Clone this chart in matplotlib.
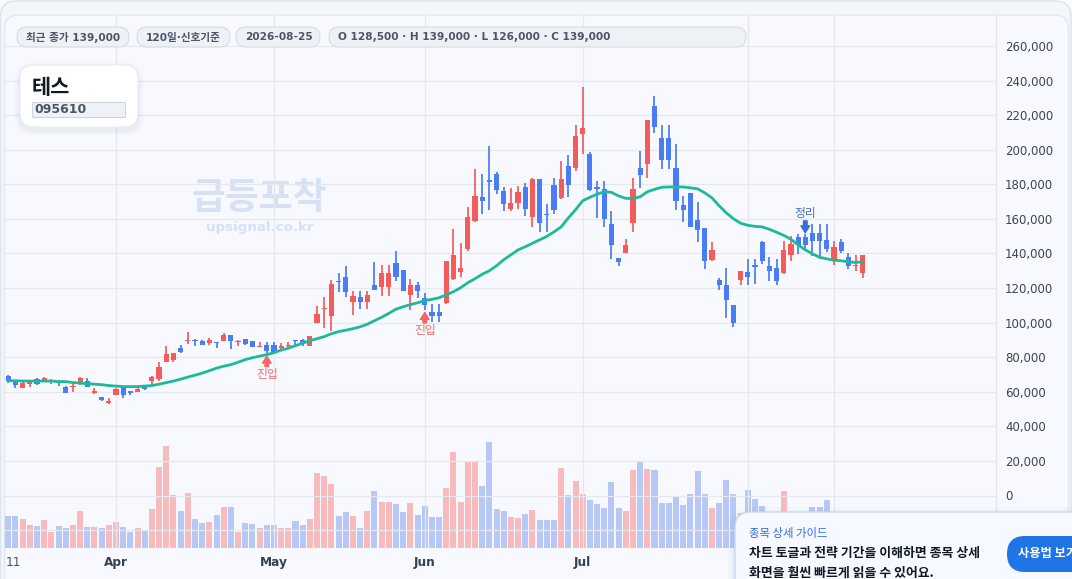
import matplotlib
matplotlib.use('Agg')
import matplotlib.pyplot as plt
from matplotlib.patches import FancyBboxPatch, Rectangle

plt.rcParams['font.family'] = ['DejaVu Sans', 'Noto Sans CJK KR']

W, H = 1072, 579

# ---------------- data ----------------
opens = [69300, 66100, 62000, 64500, 67400, 65900, 66400, 66400, 63000, 62800,
         65700, 66400, 59100, 57200, 53300, 58000, 63000, 60300, 59700, 63900,
         66100, 67200, 77400, 78400, 85500, 89200, 89600, 89600, 88000, 88400,
         89200, 93000, 89000, 90500, 89600, 85700, 87000, 87000, 85300, 86300,
         89900, 89900, 86300, 99600, 107700, 104000, 123800, 126500, 111700, 115000,
         111700, 121700, 120400, 120400, 134600, 130600, 116100, 121900, 114200, 106300,
         106300, 111100, 125200, 129400, 142500, 158900, 172800, 182400, 185900, 176200,
         166000, 169500, 178500, 161200, 183000, 163100, 179700, 172000, 190700, 189300,
         209400, 197400, 178500, 177200, 157000, 137300, 140000, 157400, 189300, 192000,
         225300, 206700, 206700, 189300, 168100, 174900, 159300, 155000, 136400, 124800,
         121900, 110400, 124800, 129400, 133500, 146800, 132900, 131500, 129000, 139100,
         149700, 149700, 151800, 151800, 147700, 136700, 146800, 138100, 132700, 128500]
highs = [69600, 66400, 66800, 66800, 67800, 68800, 67200, 66400, 63600, 65900,
         68800, 68000, 62200, 57200, 56400, 62000, 63000, 60700, 62200, 63900,
         69300, 77000, 86300, 82600, 87100, 94800, 90500, 89900, 91100, 88800,
         94000, 93000, 89900, 90500, 89600, 88800, 88800, 88800, 88200, 88800,
         89900, 90500, 92400, 109800, 114600, 124800, 128700, 132900, 118400, 118400,
         118400, 135200, 133300, 133300, 141600, 130600, 125200, 123300, 117100, 110700,
         110700, 135800, 154100, 145800, 167000, 188700, 185900, 202200, 187400, 178500,
         177800, 179100, 181000, 183900, 183000, 168500, 183500, 193600, 197000, 214400,
         236300, 199000, 182000, 182000, 164700, 137300, 148300, 183500, 199300, 217100,
         231100, 214400, 214400, 203200, 173300, 174900, 169900, 155000, 146800, 125800,
         131400, 110400, 130000, 136700, 136700, 147300, 137700, 136700, 147300, 150200,
         151200, 151200, 157000, 157000, 157000, 147000, 148300, 140000, 139200, 139000]
lows = [64900, 62200, 62000, 62600, 64100, 65500, 64500, 63600, 59100, 59700,
        64100, 62600, 58700, 54900, 52800, 58000, 56400, 58200, 59700, 61100,
        63600, 66400, 77400, 77400, 82200, 87600, 86700, 87100, 87200, 85300,
        89200, 84700, 86300, 87200, 85700, 85700, 82200, 82200, 84400, 85000,
        87200, 86700, 86300, 99600, 96700, 95300, 117500, 114600, 104600, 107900,
        107900, 119000, 115600, 115600, 124200, 118400, 107500, 114000, 107500, 100200,
        100200, 110700, 124600, 126200, 141600, 158300, 163100, 165100, 174300, 164300,
        164300, 165600, 161800, 155600, 152700, 152200, 163100, 171400, 172400, 187800,
        197800, 176200, 160800, 155600, 136700, 132500, 140000, 152200, 177800, 183500,
        209900, 188700, 188700, 165100, 158500, 155600, 146400, 131000, 135400, 118800,
        102500, 97300, 121700, 121900, 122300, 134200, 124200, 121900, 128400, 135400,
        139600, 142700, 138700, 137000, 140600, 133500, 140200, 131000, 130000, 126000]
closes = [66100, 64100, 64900, 65500, 64500, 68200, 66600, 65300, 59100, 63000,
          68200, 63000, 60700, 55500, 54900, 61400, 58200, 59300, 61800, 61400,
          68800, 74500, 81900, 82600, 83200, 89600, 89400, 87200, 89900, 88200,
          93000, 89200, 89600, 87600, 85700, 86500, 83700, 82800, 86300, 86900,
          89400, 88000, 92400, 105000, 108200, 122300, 123400, 117500, 115600, 111700,
          116100, 119000, 128800, 128800, 126200, 118400, 121900, 118400, 110400, 104000,
          104000, 135800, 139200, 131400, 161200, 173300, 170100, 181600, 176600, 168500,
          169500, 175700, 165600, 183000, 157400, 162000, 165300, 183000, 179500, 208000,
          212400, 176800, 177200, 159900, 144800, 134800, 145000, 177200, 185500, 217100,
          213400, 193900, 193900, 170500, 165100, 155600, 153500, 135800, 141900, 121700,
          113200, 99600, 130000, 126500, 131900, 135400, 129600, 123800, 141900, 145400,
          145000, 145000, 147000, 147000, 142500, 143900, 141600, 132500, 133100, 139000]
ma_line = [66400, 66400, 66200, 66200, 66200, 66200, 66200, 65900, 65900, 65300,
           65000, 64700, 64400, 64100, 63600, 63300, 63000, 63000, 63000, 63300,
           63600, 64400, 65300, 66200, 67300, 68500, 69600, 70800, 72200, 73700,
           74800, 75700, 77100, 78600, 79700, 80600, 81500, 82600, 84100, 85200,
           86700, 88100, 89600, 90700, 91900, 93600, 94800, 95600, 96500, 97600,
           99100, 101100, 103100, 105400, 107800, 109200, 110400, 111500, 112700, 113500,
           114400, 116100, 117900, 120200, 123100, 125400, 128000, 130000, 132900, 136400,
           139200, 142100, 143900, 145900, 147900, 149900, 152500, 155400, 160600, 165300,
           170500, 172500, 174300, 175700, 175400, 173300, 171900, 171800, 172800, 175700,
           177100, 178300, 178500, 178500, 178500, 178000, 177400, 175100, 172200, 167600,
           163500, 160100, 157500, 156300, 155700, 155400, 154000, 152300, 150500, 148200,
           145000, 142100, 139800, 137800, 136900, 136100, 135800, 135200, 134800, 135200]
volume_k = [320, 320, 290, 230, 220, 280, 160, 220, 200, 230,
            370, 210, 210, 200, 230, 260, 210, 160, 200, 170,
            390, 810, 1020, 530, 370, 550, 290, 250, 260, 330,
            410, 410, 160, 250, 240, 200, 230, 230, 200, 200,
            270, 230, 290, 750, 720, 640, 320, 360, 320, 200,
            370, 570, 460, 460, 440, 360, 450, 330, 420, 310,
            310, 600, 960, 460, 870, 860, 620, 1060, 390, 370,
            310, 300, 340, 380, 280, 280, 280, 800, 530, 670,
            540, 480, 440, 400, 660, 400, 370, 780, 860, 790,
            780, 450, 450, 520, 430, 540, 770, 540, 400, 450,
            680, 540, 350, 580, 490, 420, 300, 280, 570, 330,
            310, 340, 410, 410, 480, 300, 280, 320, 260, 350]

month_ticks = [15, 37, 58, 80, 103]
month_labels = ['Apr', 'May', 'Jun', 'Jul', 'Aug']
price_ticks = list(range(-20000, 260001, 20000))
entry_idx = [36, 58]
exit_idx = [111]
marker_line_idx = 115

stock_name = '테스'
stock_code = '095610'
chips = ['최근 종가 139,000', '120일·신호기준', '2026-08-25',
         'O 128,500 · H 139,000 · L 126,000 · C 139,000']

# ---------------- styling ----------------
UP = '#f45b5b'
DOWN = '#4a7cf5'
UP_VOL = '#f8b8ba'
DOWN_VOL = '#b4c6f7'
MA_COLOR = '#1db99b'
GRID = '#e4e8ef'

fig = plt.figure(figsize=(W / 100, H / 100), dpi=100)
fig.patch.set_facecolor('#f8fafd')

# background panels (pixel coordinates)
bg = fig.add_axes([0, 0, 1, 1], zorder=-5)
bg.set_xlim(0, W)
bg.set_ylim(H, 0)
bg.axis('off')
bg.add_patch(FancyBboxPatch((0.5, 1), W - 1.5, H + 40, boxstyle='round,pad=0,rounding_size=16',
                            facecolor='#f3f6fb', edgecolor='#dde3ec', lw=1.0))
bg.add_patch(FancyBboxPatch((4.5, 15), 1064, H + 40, boxstyle='round,pad=0,rounding_size=14',
                            facecolor='#f7f9fe', edgecolor='#e2e7ef', lw=1.0))
bg.text(259, 198, '급등포착', fontsize=26.5, fontweight='bold', color='#d6e1f6',
        ha='center', va='center', family=['Noto Sans CJK KR'])
bg.text(260, 228, 'upsignal.co.kr', fontsize=9.6, fontweight='bold', color='#d6e1f6',
        ha='center', va='center')

# main axes
L_PX, R_PX, T_PX, B_PX = 4, 996, 15, 548
ax = fig.add_axes([L_PX / W, (H - B_PX) / H, (R_PX - L_PX) / W, (B_PX - T_PX) / H])
ax2 = ax.twinx()
ax2.set_zorder(1)
ax.set_zorder(2)
ax.patch.set_visible(False)
ax2.patch.set_visible(False)

PITCH, X0 = 7.18, 8.3
ax.set_xlim((L_PX - X0) / PITCH, (R_PX - X0) / PITCH)
ZERO_Y, WON_PER_PX = 495.5, 578.5
ax.set_ylim((ZERO_Y - B_PX) * WON_PER_PX, (ZERO_Y - T_PX) * WON_PER_PX)

n = len(opens)
idx = list(range(n))
is_up = [c >= o for o, c in zip(opens, closes)]

# volume
ax2.set_ylim(0, (B_PX - T_PX) * 10)
ax2.bar(idx, volume_k, width=0.84, color=[UP_VOL if u else DOWN_VOL for u in is_up],
        linewidth=0, alpha=0.95)
ax2.set_yticks([])
for s in ax2.spines.values():
    s.set_visible(False)

# grid
ax.set_yticks(price_ticks)
ax.set_yticklabels([f'{v:,}' for v in price_ticks])
ax.set_xticks(month_ticks)
ax.set_xticklabels(month_labels)
ax.grid(True, color=GRID, lw=0.9)
ax.set_axisbelow(True)
ax.axvline(marker_line_idx, color=GRID, lw=0.9, zorder=0)

ax.yaxis.tick_right()
ax.tick_params(axis='y', length=0, pad=6.5, labelsize=8.5, labelcolor='#3b4555')
ax.tick_params(axis='x', length=0, pad=6, labelsize=8.7, labelcolor='#334155')
for lbl in ax.get_xticklabels():
    lbl.set_fontweight('bold')
for name, s in ax.spines.items():
    s.set_visible(name == 'right')
ax.spines['right'].set_color('#e1e6ee')
ax.spines['right'].set_linewidth(0.9)

# candles
cols = [UP if u else DOWN for u in is_up]
ax.vlines(idx, lows, highs, colors=cols, lw=1.25, zorder=3)
bodies = [max(abs(c - o), 600) for o, c in zip(opens, closes)]
bottoms = [min(o, c) for o, c in zip(opens, closes)]
ax.bar(idx, bodies, bottom=bottoms, width=0.72, color=cols, linewidth=0, zorder=4)

# moving average
ax.plot(idx, ma_line, color=MA_COLOR, lw=2.0, zorder=5, solid_capstyle='round')

# signal markers
arrow_style = 'simple,head_length=0.5,head_width=0.62,tail_width=0.26'
for i in entry_idx:
    ax.annotate('', xy=(i, lows[i]), xytext=(0, -9.5), textcoords='offset points',
                arrowprops=dict(arrowstyle=arrow_style, color='#f06868', shrinkA=0, shrinkB=2),
                zorder=6)
    ax.annotate('진입', xy=(i, lows[i]), xytext=(0, -15), textcoords='offset points',
                ha='center', va='center', fontsize=8.5, color='#ec6f6f', zorder=6)
for i in exit_idx:
    ax.annotate('', xy=(i, highs[i]), xytext=(0, 9.5), textcoords='offset points',
                arrowprops=dict(arrowstyle=arrow_style, color='#3a6bd6', shrinkA=0, shrinkB=1),
                zorder=6)
    ax.annotate('정리', xy=(i, highs[i]), xytext=(0, 14.5), textcoords='offset points',
                ha='center', va='center', fontsize=8.5, color='#4a6cc2', zorder=6)

# foreground overlay
fg = fig.add_axes([0, 0, 1, 1], zorder=10)
fg.set_xlim(0, W)
fg.set_ylim(H, 0)
fg.axis('off')
fg.patch.set_visible(False)

fg.text(6, 562, '11', fontsize=8.7, color='#475569', ha='left', va='center')

chip_boxes = [(17, 129), (137, 230), (236, 320), (329, 746)]
for (x0, x1), label in zip(chip_boxes, chips):
    fg.add_patch(FancyBboxPatch((x0, 27), x1 - x0, 20, boxstyle='round,pad=0,rounding_size=10',
                                facecolor='#eef2f7', edgecolor='#d6dce5', lw=0.8))
    fg.text(x0 + 9, 37.5, label, fontsize=7.6, fontweight='bold', color='#4a5568',
            ha='left', va='center')

# title card
for k, a in [(6, 0.025), (4, 0.035), (2, 0.05)]:
    fg.add_patch(FancyBboxPatch((20 - k, 65 - k + 3), 118 + 2 * k, 62 + 2 * k,
                                boxstyle=f'round,pad=0,rounding_size={14 + k}',
                                facecolor='#7a8aa8', edgecolor='none', alpha=a))
fg.add_patch(FancyBboxPatch((20, 65), 118, 62, boxstyle='round,pad=0,rounding_size=14',
                            facecolor='#ffffff', edgecolor='#e6ebf2', lw=0.8))
fg.text(32, 87, stock_name, fontsize=15, fontweight='bold', color='#111827',
        ha='left', va='center', family=['Noto Sans CJK KR'])
fg.add_patch(Rectangle((32, 102), 93, 15, facecolor='#eef1f6', edgecolor='#cfd5de', lw=0.8))
fg.text(34, 109.5, stock_code, fontsize=9, fontweight='bold', color='#4b5563',
        ha='left', va='center')

# guide popup
for k, a in [(7, 0.03), (4, 0.04), (2, 0.05)]:
    fg.add_patch(FancyBboxPatch((735 - k, 512 - k + 2), 380 + 2 * k, 120,
                                boxstyle=f'round,pad=0,rounding_size={16 + k}',
                                facecolor='#6b82b0', edgecolor='none', alpha=a))
fg.add_patch(FancyBboxPatch((735, 512), 380, 120, boxstyle='round,pad=0,rounding_size=16',
                            facecolor='#f6f9ff', edgecolor='#c9d8f2', lw=1.0))
fg.text(749, 534, '종목 상세 가이드', fontsize=8.2, color='#2f6ae0', ha='left', va='center',
        family=['Noto Sans CJK KR'])
fg.text(749, 553, '차트 토글과 전략 기간을 이해하면 종목 상세', fontsize=9.3, fontweight='bold',
        color='#111827', ha='left', va='center', family=['Noto Sans CJK KR'])
fg.text(749, 572.5, '화면을 훨씬 빠르게 읽을 수 있어요.', fontsize=9.3, fontweight='bold',
        color='#111827', ha='left', va='center', family=['Noto Sans CJK KR', 'DejaVu Sans'])
fg.add_patch(FancyBboxPatch((1007, 536), 110, 36, boxstyle='round,pad=0,rounding_size=18',
                            facecolor='#1f74e6', edgecolor='none'))
fg.text(1018, 554, '사용법 보기', fontsize=8.8, fontweight='bold', color='white',
        ha='left', va='center', family=['Noto Sans CJK KR'])

fig.savefig('out.png', dpi=100, facecolor=fig.get_facecolor())
